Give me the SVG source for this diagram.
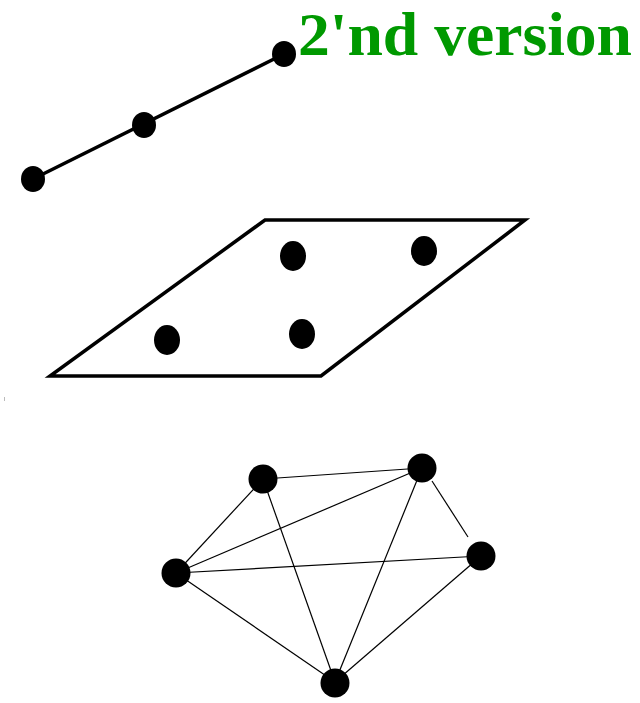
<svg xmlns="http://www.w3.org/2000/svg" width="640" height="703" viewBox="0 0 640 703">
<style>
.dot{fill:#000}
.thick{stroke:#000;stroke-width:3.5;fill:none}
.thin{stroke:#000;stroke-width:1.2;fill:none}
.title{font-family:"Liberation Serif",serif;font-weight:bold;font-size:62px;fill:#009900}
</style>
<rect width="640" height="703" fill="#fff"/>
<text class="title" x="298" y="55" textLength="334" lengthAdjust="spacingAndGlyphs">2'nd version</text>
<g id="connectors">
<line class="thick" x1="33" y1="179" x2="284" y2="54"/>
<polygon class="thick" points="265,220 525,220 321,376 50,376"/>
<line class="thin" x1="263" y1="479" x2="422" y2="468"/>
<line class="thin" x1="263" y1="479" x2="176" y2="573"/>
<line class="thin" x1="263" y1="479" x2="335" y2="682"/>
<line class="thin" x1="422" y1="468" x2="176" y2="573"/>
<line class="thin" x1="422" y1="468" x2="335" y2="682"/>
<line class="thin" x1="432" y1="481" x2="468" y2="537"/>
<line class="thin" x1="176" y1="573" x2="481" y2="556"/>
<line class="thin" x1="176" y1="573" x2="335" y2="682"/>
<line class="thin" x1="481" y1="556" x2="335" y2="682"/>
<line x1="4.5" y1="397" x2="4.5" y2="401" stroke="#bbb" stroke-width="1"/>
</g>
<g id="line-1"><ellipse class="dot" cx="33" cy="179" rx="12" ry="13"/></g>
<g id="line-2"><ellipse class="dot" cx="144" cy="125" rx="12" ry="13"/></g>
<g id="line-3"><ellipse class="dot" cx="284" cy="54" rx="12" ry="13"/></g>
<g id="plane-1"><ellipse class="dot" cx="293" cy="256" rx="13" ry="15"/></g>
<g id="plane-2"><ellipse class="dot" cx="424" cy="251" rx="13" ry="15"/></g>
<g id="plane-3"><ellipse class="dot" cx="167" cy="340" rx="13" ry="15"/></g>
<g id="plane-4"><ellipse class="dot" cx="302" cy="334" rx="13" ry="15"/></g>
<g id="graph-a"><circle class="dot" cx="263" cy="479" r="14.5"/></g>
<g id="graph-b"><circle class="dot" cx="422" cy="468" r="14.5"/></g>
<g id="graph-c"><circle class="dot" cx="176" cy="573" r="14.5"/></g>
<g id="graph-d"><circle class="dot" cx="481" cy="556" r="14.5"/></g>
<g id="graph-e"><circle class="dot" cx="335" cy="683" r="14.5"/></g>
</svg>
